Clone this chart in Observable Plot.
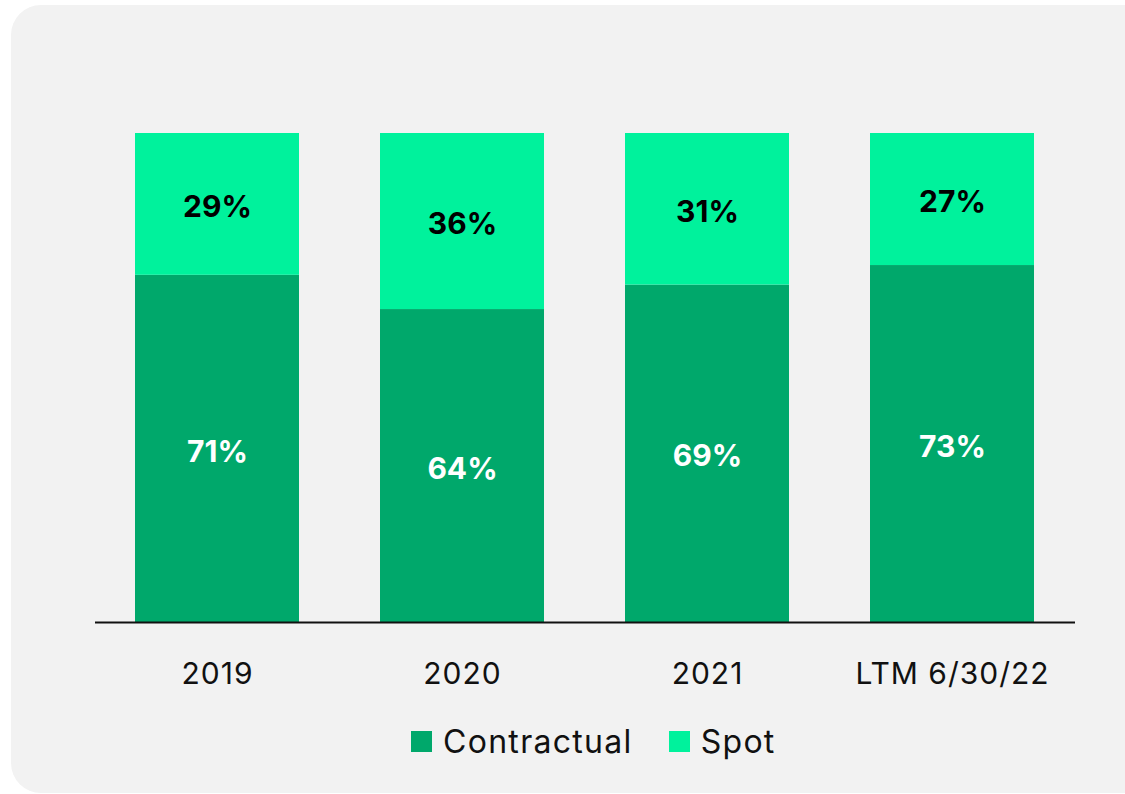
<!DOCTYPE html>
<html>
<head>
<meta charset="utf-8">
<script src="https://cdn.jsdelivr.net/npm/d3@7"></script>
<script src="https://cdn.jsdelivr.net/npm/@observablehq/plot@0.6"></script>
<style>
  html, body { margin: 0; padding: 0; background: #ffffff; overflow: hidden; }
  #page { position: relative; width: 1125px; height: 794px; overflow: hidden; font-family: Inter, "Noto Sans", sans-serif; }
  #panel { position: absolute; left: 11px; top: 5px; width: 1160px; height: 788px; border-radius: 30px; background: #f2f2f2; }
  #chart { position: absolute; left: 0; top: 0; }
  #legend { position: absolute; left: 411px; top: 722px; display: flex; align-items: center; font-size: 32px; letter-spacing: 1.3px; color: #111; }
  .item { display: flex; align-items: center; margin-right: 36px; }
  .sw { width: 21px; height: 21px; margin-right: 11px; }
</style>
</head>
<body>
<div id="page">
  <div id="panel"></div>
  <div id="chart"></div>
  <div id="legend"></div>
</div>
<script>
const categories = ["2019", "2020", "2021", "LTM 6/30/22"];
const contractual = [71, 64, 69, 73];
const spot = [29, 36, 31, 27];
const seriesNames = ["Contractual", "Spot"];
const barColors = {"Contractual": "#00a86b", "Spot": "#00f29c"};
const labelColors = {"Contractual": "#ffffff", "Spot": "#000000"};

const data = [];
categories.forEach((c, i) => {
  data.push({category: c, series: "Contractual", value: contractual[i]});
  data.push({category: c, series: "Spot", value: spot[i]});
});

const chart = Plot.plot({
  width: 1125,
  height: 700,
  marginLeft: 95,
  marginRight: 50,
  marginTop: 133,
  marginBottom: 78,
  style: {background: "none", fontFamily: "Inter, 'Noto Sans', sans-serif", overflow: "visible"},
  x: {domain: categories, paddingInner: 0.33, paddingOuter: 0.165, label: null, tickSize: 0, tickPadding: 40},
  y: {domain: [0, 100], axis: null},
  color: {type: "identity"},
  marks: [
    Plot.barY(data, {x: "category", y: "value", fill: d => barColors[d.series], inset: 0}),
    Plot.text(data, Plot.stackY({
      x: "category", y: "value",
      text: d => d.value + "%",
      fill: d => labelColors[d.series],
      fontSize: 30, fontWeight: 700, dy: 3
    })),
    Plot.ruleY([0], {stroke: "#111", strokeWidth: 1.8}),
    Plot.axisX({tickSize: 0, tickPadding: 40, fontSize: 30, fill: "#111", label: null, style: {letterSpacing: "1px"}})
  ]
});
document.getElementById("chart").appendChild(chart);
chart.querySelectorAll("[aria-label='x-axis tick label'] text").forEach(t => t.setAttribute("letter-spacing", "1px"));

const legend = document.getElementById("legend");
seriesNames.forEach(s => {
  const item = document.createElement("div");
  item.className = "item";
  const sw = document.createElement("div");
  sw.className = "sw";
  sw.style.background = barColors[s];
  const t = document.createElement("span");
  t.textContent = s;
  item.appendChild(sw);
  item.appendChild(t);
  legend.appendChild(item);
});
</script>
</body>
</html>
